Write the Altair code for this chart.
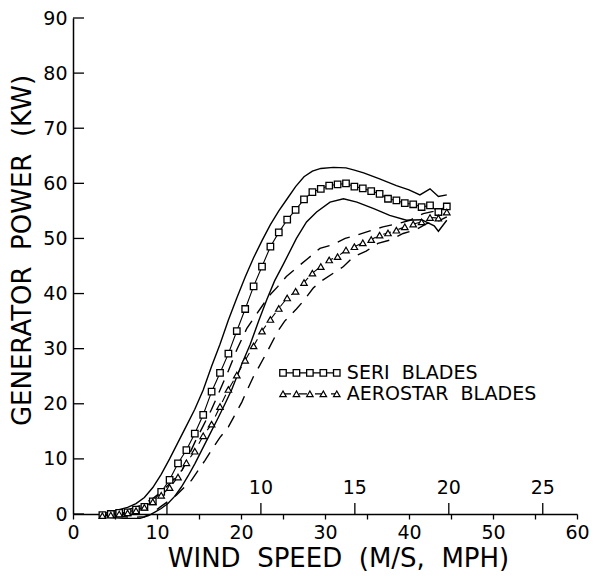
import altair as alt
import pandas as pd

FONT = "DejaVu Sans"

# ---------------- data (wind speed in MPH, power in kW) ----------------
mean_x = [3.5, 4.5, 5.5, 6.5, 7.5, 8.5, 9.5, 10.5, 11.5, 12.5, 13.5, 14.5, 15.5, 16.5,
          17.5, 18.5, 19.5, 20.5, 21.5, 22.5, 23.5, 24.5, 25.5, 26.5, 27.5, 28.5, 29.5,
          30.5, 31.5, 32.5, 33.5, 34.5, 35.5, 36.5, 37.5, 38.5, 39.5, 40.5, 41.5, 42.5,
          43.5, 44.5]
seri_mean = [-0.2, 0.0, 0.2, 0.3, 0.8, 1.3, 2.3, 4.0, 6.2, 9.2, 11.6, 14.6, 18.0, 22.2,
             25.6, 29.1, 33.2, 37.2, 41.3, 44.9, 48.5, 51.1, 53.4, 55.2, 57.1, 58.4, 59.0,
             59.6, 59.8, 60.0, 59.4, 59.1, 58.6, 58.1, 57.2, 56.9, 56.4, 56.2, 55.7, 56.0,
             54.8, 55.8]
aero_mean = [-0.3, -0.2, 0.0, 0.2, 0.6, 1.2, 2.2, 3.4, 4.8, 6.7, 9.3, 11.4, 14.2, 16.3,
             19.5, 22.6, 25.2, 27.9, 30.5, 33.2, 35.3, 37.3, 39.2, 40.4, 42.0, 43.7, 44.9,
             46.1, 46.7, 47.9, 48.5, 49.2, 49.8, 50.6, 51.0, 51.5, 52.1, 52.6, 53.0, 53.8,
             53.7, 54.8]

seri_upper_x = [3.5, 5, 6.5, 7.5, 8.5, 9.5, 10.5, 11.5, 12.5, 13.5, 14.5, 15.5, 16.5, 17.5,
                18.5, 19.5, 20.5, 21.5, 22.5, 23.5, 24.5, 25.5, 26.5, 27.5, 28.5, 29.5, 31,
                32.5, 33.5, 34.6, 36.5, 38.5, 40, 41.3, 42.5, 43.5, 44.5]
seri_upper_y = [0.0, 0.6, 1.2, 1.9, 3.0, 4.8, 7.2, 10.0, 13.0, 16.0, 19.0, 22.5, 26.8, 30.8,
                35.2, 39.2, 43.0, 46.5, 49.6, 52.5, 55.0, 57.2, 59.4, 61.2, 62.2, 62.7, 62.9,
                62.8, 62.4, 61.9, 60.8, 59.6, 58.8, 57.9, 59.0, 57.6, 57.9]

seri_lower_x = [4, 6, 8, 9, 9.8, 10.5, 11.3, 12.1, 12.9, 13.7, 14.5, 15.3, 16.1, 17.3, 18.1,
                18.9, 20.1, 21.1, 22.1, 23.1, 24.0, 25.0, 26.6, 27.8, 29.0, 30.6, 32.2, 33.8,
                35.8, 37.7, 39.7, 41.5, 43.0, 43.5, 44.5]
seri_lower_y = [-0.6, -0.8, -0.8, -0.3, 0.4, 1.0, 1.9, 3.2, 4.9, 6.9, 9.1, 11.5, 13.9, 17.5,
                20.0, 22.6, 27.2, 30.8, 35.0, 39.0, 42.3, 45.2, 50.0, 53.0, 54.8, 56.6, 57.2,
                56.6, 55.4, 54.2, 53.3, 53.4, 52.3, 51.3, 53.3]

aero_upper_x = [4, 6, 8, 9.5, 10.5, 11.5, 12.3, 13, 13.9, 14.5, 15.5, 16.5, 17.5, 18.5, 19.5,
                20.7, 21.5, 22.5, 23.3, 24.4, 25.4, 26.8, 28, 29.4, 30.8, 32.4, 33.8, 35.6,
                36.9, 38.7, 40.1, 41.7, 42.9, 44.5]
aero_upper_y = [0.2, 0.5, 1.5, 2.8, 4.0, 5.5, 6.8, 8.0, 11.0, 13.0, 16.0, 19.0, 22.5, 26.0,
                29.8, 33.7, 35.5, 37.7, 39.5, 41.3, 43.1, 44.9, 46.4, 48.2, 48.8, 50.0, 50.6,
                51.5, 52.1, 52.7, 53.3, 54.5, 54.9, 55.7]

aero_lower_x = [5, 7, 8.5, 9.5, 10.4, 11.5, 12.3, 13.3, 14.1, 14.9, 15.7, 16.7, 17.5, 18.5,
                19.1, 20.1, 20.5, 21.5, 22.1, 23.1, 24.4, 25.2, 26.6, 27.4, 28.6, 29.6, 31,
                32.2, 33.4, 34.9, 36.3, 37.7, 39.3, 40.7, 42.1, 43.3, 44.5]
aero_lower_y = [-0.4, -0.6, -0.5, 0.2, 1.3, 2.5, 3.4, 4.9, 6.1, 7.9, 9.7, 12.1, 13.9, 15.8,
                17.5, 20.3, 21.7, 25.0, 26.6, 29.4, 33.2, 35.0, 37.2, 38.6, 41.0, 42.3, 43.7,
                44.9, 46.7, 47.7, 49.1, 49.7, 50.9, 51.5, 52.7, 53.0, 53.9]

y_ticks = [0, 10, 20, 30, 40, 50, 60, 70, 80, 90]
x_ticks = [0, 5, 10, 15, 20, 25, 30, 35, 40, 45, 50, 55, 60]
ms_ticks = [5, 10, 15, 20, 25]
ms_labels = ["", "10", "15", "20", "25"]
legend_names = ["SERI\u00a0\u00a0BLADES", "AEROSTAR\u00a0\u00a0BLADES"]

NB = "\u00a0\u00a0"
X_TITLE = "WIND" + NB + "SPEED" + NB + "(M/S," + NB + "MPH)"
Y_TITLE = "GENERATOR" + NB + "POWER" + NB + "(KW)"

# ---------------- tables ----------------
def tab(xs, ys, name):
    return pd.DataFrame({"mph": xs, "kw": ys, "s": name})

seri_env = pd.concat([tab(seri_upper_x, seri_upper_y, "u"), tab(seri_lower_x, seri_lower_y, "l")])
aero_env = pd.concat([tab(aero_upper_x, aero_upper_y, "u"), tab(aero_lower_x, aero_lower_y, "l")])
seri_df = tab(mean_x, seri_mean, "seri")
aero_df = tab(mean_x, aero_mean, "aero")
ytick_df = pd.DataFrame({"kw": y_ticks})
ms_df = pd.DataFrame({"ms": ms_ticks, "lab": ms_labels})

H = 496
xs = alt.Scale(domain=[0, 60], nice=False, zero=False)
ys = alt.Scale(domain=[0, 90], nice=False, zero=False)

X = alt.X("mph:Q", scale=xs, axis=alt.Axis(
    values=x_ticks, labelExpr="datum.value % 10 == 0 ? datum.label : ''",
    title=X_TITLE, tickSize=5, labelPadding=4,
    titlePadding=3, titleX=265, labelFontSize=19, titleFontSize=26, grid=False,
    titleFontWeight="normal", labelFlush=False))
Y = alt.Y("kw:Q", scale=ys, axis=alt.Axis(
    values=y_ticks, title=Y_TITLE, ticks=False, tickSize=0,
    labelPadding=6, titlePadding=7, titleY=232, labelFontSize=19, titleFontSize=26,
    grid=False, titleFontWeight="normal", labelFlush=False))

seri_env_ch = alt.Chart(seri_env).mark_line(color="black", strokeWidth=1.4).encode(
    x=X, y=Y, detail="s:N")
aero_env_ch = alt.Chart(aero_env).mark_line(color="black", strokeWidth=1.4,
                                            strokeDash=[13, 9]).encode(
    x="mph:Q", y="kw:Q", detail="s:N")

seri_line = alt.Chart(seri_df).mark_line(color="black", strokeWidth=1.1).encode(
    x="mph:Q", y="kw:Q")
seri_pts = alt.Chart(seri_df).mark_point(shape="square", size=42, filled=True, fill="white",
                                         stroke="black", strokeWidth=1.3, opacity=1).encode(
    x="mph:Q", y="kw:Q")
aero_line = alt.Chart(aero_df).mark_line(color="black", strokeWidth=1.1,
                                         strokeDash=[8, 8]).encode(x="mph:Q", y="kw:Q")
aero_pts = alt.Chart(aero_df).mark_point(shape="triangle-up", size=42, filled=True,
                                         fill="white", stroke="black", strokeWidth=1.2,
                                         opacity=1).encode(x="mph:Q", y="kw:Q")

# inward y ticks
ytick_ch = alt.Chart(ytick_df).mark_rule(color="black", strokeWidth=1.3).encode(
    y="kw:Q", x=alt.value(0), x2=alt.value(11))

# secondary m/s scale drawn along the x axis
ms_base = alt.Chart(ms_df).transform_calculate(mph="datum.ms * 2.23694")
ms_rules = ms_base.mark_rule(color="black", strokeWidth=1.3).encode(
    x="mph:Q", y=alt.value(H), y2=alt.value(H - 11))
ms_text = ms_base.mark_text(fontSize=19, font=FONT, color="black", baseline="middle",
                            align="center").encode(
    x="mph:Q", y=alt.value(H - 26), text="lab:N")

# legend drawn inside the plot
leg_pts = pd.DataFrame({"i": [0, 1, 2, 3, 4]})
leg_base = alt.Chart(leg_pts).transform_calculate(lx="25 + datum.i * 1.6")
leg_seri_line = leg_base.mark_line(color="black", strokeWidth=1.1).encode(
    x="lx:Q", y=alt.datum(25.6))
leg_seri_pts = leg_base.mark_point(shape="square", size=42, filled=True, fill="white",
                                   stroke="black", strokeWidth=1.3, opacity=1).encode(
    x="lx:Q", y=alt.datum(25.6))
leg_aero_line = leg_base.mark_line(color="black", strokeWidth=1.1, strokeDash=[8, 8]).encode(
    x="lx:Q", y=alt.datum(21.8))
leg_aero_pts = leg_base.mark_point(shape="triangle-up", size=42, filled=True, fill="white",
                                   stroke="black", strokeWidth=1.2, opacity=1).encode(
    x="lx:Q", y=alt.datum(21.8))
leg_text_df = pd.DataFrame({"t": legend_names, "ly": [25.6, 21.8]})
leg_text = alt.Chart(leg_text_df).mark_text(fontSize=19, font=FONT, color="black",
                                            align="left", baseline="middle").encode(
    x=alt.datum(32.6), y="ly:Q", text="t:N")

chart = alt.layer(
    seri_env_ch, aero_env_ch, seri_line, aero_line, seri_pts, aero_pts,
    ytick_ch, ms_rules, ms_text,
    leg_seri_line, leg_aero_line, leg_seri_pts, leg_aero_pts, leg_text
).properties(
    width=504, height=H,
    autosize=alt.AutoSizeParams(type="none"),
    padding={"left": 65, "top": 10, "right": 13, "bottom": 62},
    background="white",
).configure_view(stroke=None).configure_axis(
    domainColor="black", domainWidth=1.5, tickColor="black", tickWidth=1.3,
    labelColor="black", titleColor="black", labelFont=FONT, titleFont=FONT,
)

chart.save("out.html", embed_options={"renderer": "svg", "actions": False})
